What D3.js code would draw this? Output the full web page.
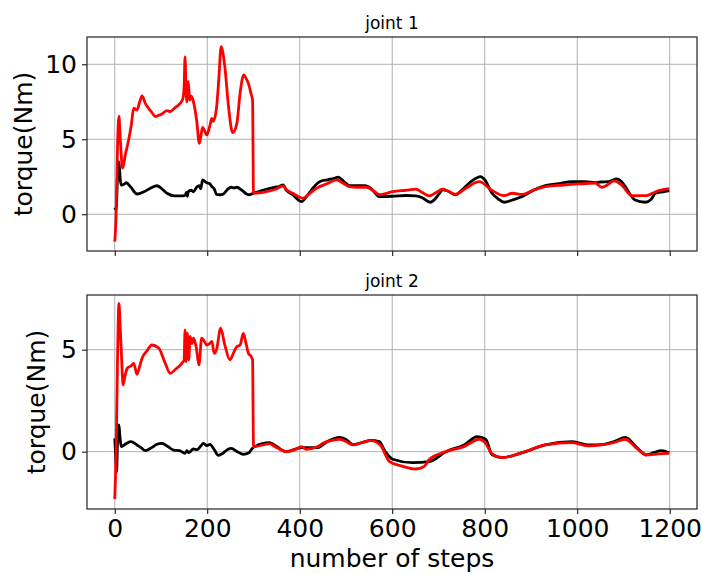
<!DOCTYPE html>
<html>
<head>
<meta charset="utf-8">
<script src="https://cdn.jsdelivr.net/npm/d3@7"></script>
<style>
  html, body { margin: 0; padding: 0; background: #fff; }
  text { font-family: "DejaVu Sans", sans-serif; fill: #000; }
</style>
</head>
<body>
<svg id="chart" width="702" height="574"></svg>
<script>
// ---------------- data ----------------
const xTicks = [0, 200, 400, 600, 800, 1000, 1200];
const j1YTicks = [0, 5, 10];
const j2YTicks = [0, 5];
const titles = ["joint 1", "joint 2"];
const yLabel = "torque(Nm)";
const xLabel = "number of steps";

// joint 1, black series [step, torque]
const j1Black = [[0,0.44],[3,0.3],[6,2.5],[9,3.5],[12,2.3],[14,1.95],[20,2.0],[25,2.1],[35,1.8],[48,1.35],[63,1.5],[78,1.75],[91,1.9],[102,1.7],[113,1.4],[130,1.22],[145,1.22],[152,1.27],[155,1.45],[157,1.2],[159,1.5],[165,1.6],[170,1.5],[177,1.8],[183,1.9],[186,1.7],[190,2.29],[199,2.1],[205,2.05],[210,1.85],[215,1.7],[220,1.33],[228,1.3],[235,1.35],[245,1.7],[252,1.8],[258,1.75],[264,1.8],[275,1.6],[285,1.35],[292,1.3],[299,1.4],
  [310,1.5],[320,1.6],[335,1.73],[345,1.8],[355,1.85],[364,1.95],[371,1.6],[385,1.3],[395,1.0],[404,0.84],[415,1.2],[430,1.8],[443,2.17],[460,2.3],[475,2.4],[483,2.47],[495,2.2],[508,1.91],[525,1.9],[541,1.91],[555,1.7],[572,1.18],[600,1.2],[630,1.25],[651,1.22],[665,1.1],[682,0.8],[695,1.1],[702,1.4],[709,1.62],[720,1.55],[737,1.29],[750,1.6],[770,2.17],[791,2.51],[800,2.3],[816,1.4],[830,1.0],[842,0.8],[860,0.95],[881,1.18],[905,1.6],[931,1.91],[960,2.05],[989,2.17],[1017,2.17],[1039,2.11],[1050,2.15],[1068,2.17],[1086,2.35],[1095,2.2],[1104,1.84],[1115,1.3],[1125,0.95],[1147,0.8],[1160,1.0],[1169,1.4],[1185,1.5],[1199,1.58]];

// joint 1, red series
const j1Red = [[0,-1.83],[3,0],[6,4.5],[9,6.55],[12,5.0],[17,3.07],[23,4.0],[30,4.95],[36,6.0],[41,7.07],[48,6.95],[54,7.5],[59,7.89],[66,7.4],[73,7.07],[80,6.8],[88,6.51],[95,6.6],[102,6.69],[113,6.91],[120,6.85],[130,7.1],[138,7.29],[147,7.67],[150,8.5],[152,10.5],[154,8.5],[156,7.5],[159,8.84],[162,7.62],[165,7.9],[168,7.73],[177,6.29],[183,4.73],[190,5.8],[195,5.5],[199,5.29],[206,5.95],[210,6.4],[213,6.2],[220,7.07],[225,9.0],[230,11.17],[238,9.84],[246,7.18],[255,5.44],[264,6.06],[271,8.07],[279,9.29],[285,9.0],[289,8.73],[295,8.0],[298,7.62],[300,1.4],
  [335,1.55],[350,1.7],[364,1.89],[371,1.65],[385,1.4],[400,1.13],[407,1.07],[420,1.35],[436,1.73],[460,2.05],[479,2.29],[495,2.05],[508,1.84],[525,1.8],[544,1.8],[560,1.55],[572,1.3],[601,1.51],[630,1.6],[651,1.67],[665,1.45],[680,1.22],[695,1.45],[709,1.67],[720,1.55],[737,1.33],[760,1.75],[788,2.17],[816,1.58],[842,1.24],[860,1.4],[881,1.33],[905,1.6],[931,1.84],[970,1.95],[1003,2.02],[1039,2.07],[1053,1.8],[1065,1.95],[1079,2.22],[1096,1.95],[1118,1.24],[1147,1.24],[1176,1.58],[1199,1.71]];

// joint 2, black series
const j2Black = [[0,0.65],[2,-0.2],[4,-0.98],[6,0.5],[9,1.31],[11,0.8],[14,0.25],[25,0.4],[35,0.49],[48,0.33],[57,0.2],[66,0.05],[80,0.2],[90,0.35],[102,0.41],[115,0.25],[127,0.08],[140,0.05],[152,-0.08],[156,0.05],[160,-0.05],[170,0.13],[178,0.1],[185,0.25],[192,0.41],[199,0.3],[206,0.36],[215,0.1],[224,-0.18],[232,-0.1],[238,0.0],[245,0.12],[252,0.16],[265,0.0],[278,-0.13],[290,-0.05],[299,0.2],
  [335,0.44],[350,0.25],[371,0.0],[404,0.2],[439,0.2],[460,0.5],[486,0.7],[500,0.6],[515,0.35],[535,0.45],[554,0.55],[572,0.49],[585,0.0],[601,-0.37],[644,-0.54],[680,-0.49],[716,0.0],[755,0.33],[784,0.74],[802,0.61],[816,-0.15],[838,-0.29],[881,-0.05],[931,0.33],[989,0.49],[1025,0.33],[1053,0.35],[1080,0.5],[1104,0.7],[1129,0.2],[1150,-0.16],[1165,-0.05],[1182,0.05],[1199,-0.05]];

// joint 2, red series
const j2Red = [[0,-2.32],[3,0],[6,4.5],[9,7.27],[12,6.0],[15,4.5],[18,3.27],[22,3.7],[27,4.09],[35,4.2],[41,4.33],[48,3.79],[54,4.2],[59,4.58],[70,4.95],[80,5.23],[95,5.08],[108,4.4],[120,3.84],[132,4.05],[145,4.33],[150,4.5],[152,5.97],[154,4.41],[157,5.8],[160,4.5],[163,5.65],[167,5.3],[170,5.56],[176,5.15],[182,4.25],[188,5.56],[194,5.4],[199,5.23],[205,5.3],[210,5.4],[215,4.82],[220,5.0],[229,6.05],[238,5.23],[249,4.5],[258,4.9],[264,5.15],[271,5.23],[278,5.8],[284,5.3],[289,4.82],[294,4.7],[298,4.5],[300,0.25],
  [335,0.38],[350,0.2],[371,0.0],[390,0.1],[404,0.25],[414,0.12],[439,0.25],[450,0.41],[470,0.55],[486,0.61],[500,0.5],[515,0.33],[535,0.45],[554,0.54],[575,0.3],[594,-0.49],[620,-0.7],[651,-0.85],[669,-0.73],[680,-0.39],[716,0.0],[755,0.25],[788,0.61],[802,0.41],[816,-0.11],[838,-0.29],[881,-0.05],[931,0.33],[989,0.44],[1025,0.28],[1053,0.33],[1080,0.45],[1104,0.61],[1129,0.16],[1150,-0.16],[1176,-0.11],[1199,-0.08]];

// ---------------- layout ----------------
const svg = d3.select("#chart");
const left = 87, right = 697;
const x = d3.scaleLinear().domain([-60, 1259]).range([left, right]);

const panels = [
  { title: titles[0], top: 37, bottom: 251, dom: [-2.45, 11.82], ticks: j1YTicks, black: j1Black, red: j1Red, labelX: 31.5, showX: false },
  { title: titles[1], top: 295, bottom: 509, dom: [-2.81, 7.68], ticks: j2YTicks, black: j2Black, red: j2Red, labelX: 45, showX: true }
];

panels.forEach(p => {
  const y = d3.scaleLinear().domain(p.dom).range([p.bottom, p.top]);
  const g = svg.append("g");

  // grid
  g.append("g").selectAll("line").data(xTicks).join("line")
    .attr("x1", d => x(d)).attr("x2", d => x(d))
    .attr("y1", p.top).attr("y2", p.bottom)
    .attr("stroke", "#b0b0b0").attr("stroke-width", 1);
  g.append("g").selectAll("line").data(p.ticks).join("line")
    .attr("x1", left).attr("x2", right)
    .attr("y1", d => y(d)).attr("y2", d => y(d))
    .attr("stroke", "#b0b0b0").attr("stroke-width", 1);

  // lines
  const clipId = "clip" + p.top;
  svg.append("clipPath").attr("id", clipId).append("rect")
    .attr("x", left).attr("y", p.top).attr("width", right - left).attr("height", p.bottom - p.top);
  const line = d3.line().x(d => x(d[0])).y(d => y(d[1])).curve(d3.curveMonotoneX);
  g.append("path").datum(p.black).attr("d", line)
    .attr("fill", "none").attr("stroke", "#000").attr("stroke-width", 2.8)
    .attr("stroke-linejoin", "round").attr("clip-path", `url(#${clipId})`);
  g.append("path").datum(p.red).attr("d", line)
    .attr("fill", "none").attr("stroke", "#ff0000").attr("stroke-width", 2.8)
    .attr("stroke-linejoin", "round").attr("clip-path", `url(#${clipId})`);

  // axes
  const xAxis = d3.axisBottom(x).tickValues(xTicks).tickSize(5).tickPadding(5)
    .tickFormat(p.showX ? d3.format("d") : () => "");
  const xg = g.append("g").attr("transform", `translate(0,${p.bottom})`).call(xAxis);
  const yAxis = d3.axisLeft(y).tickValues(p.ticks).tickSize(5).tickPadding(5).tickFormat(d3.format("d"));
  const yg = g.append("g").attr("transform", `translate(${left},0)`).call(yAxis);
  [xg, yg].forEach(a => {
    a.select(".domain").remove();
    a.selectAll(".tick line").attr("stroke", "#000").attr("stroke-width", 1);
    a.selectAll(".tick text").style("font-family", "DejaVu Sans").style("font-size", "25px").attr("fill", "#000");
  });

  // frame
  g.append("rect").attr("x", left).attr("y", p.top)
    .attr("width", right - left).attr("height", p.bottom - p.top)
    .attr("fill", "none").attr("stroke", "#222").attr("stroke-width", 1.2);

  // title
  g.append("text").attr("x", (left + right) / 2).attr("y", p.top - 8)
    .attr("text-anchor", "middle").style("font-size", "17px").text(p.title);

  // y label
  g.append("text")
    .attr("transform", `translate(${p.labelX},${(p.top + p.bottom) / 2}) rotate(-90)`)
    .attr("text-anchor", "middle").style("font-size", "25px").text(yLabel);

  if (p.showX) {
    g.append("text").attr("x", (left + right) / 2).attr("y", 567)
      .attr("text-anchor", "middle").style("font-size", "25px").text(xLabel);
  }
});
</script>
</body>
</html>
